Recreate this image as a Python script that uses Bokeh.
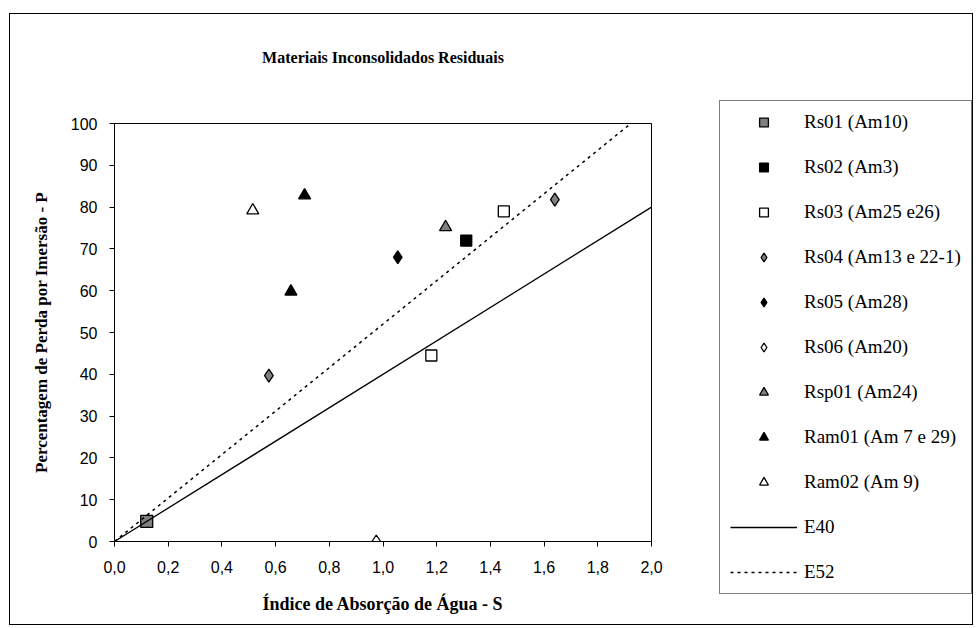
from bokeh.plotting import figure
from bokeh.models import Range1d, FixedTicker, Legend, LegendItem
from bokeh.layouts import row
from bokeh.embed import file_html
from bokeh.resources import INLINE

# ---- data ----
title_text = "Materiais Inconsolidados Residuais"
x_label = "Índice de Absorção de Água - S"
y_label = "Percentagem de Perda por Imersão - P"

x_ticks = [0.0, 0.2, 0.4, 0.6, 0.8, 1.0, 1.2, 1.4, 1.6, 1.8, 2.0]
x_tick_labels = ["0,0", "0,2", "0,4", "0,6", "0,8", "1,0", "1,2", "1,4", "1,6", "1,8", "2,0"]
y_ticks = [0, 10, 20, 30, 40, 50, 60, 70, 80, 90, 100]

series_names = ["Rs01 (Am10)", "Rs02 (Am3)", "Rs03 (Am25 e26)", "Rs04 (Am13 e 22-1)",
                "Rs05 (Am28)", "Rs06 (Am20)", "Rsp01 (Am24)", "Ram01 (Am 7 e 29)",
                "Ram02 (Am 9)"]
line_names = ["E40", "E52"]

rs01_s = [0.12]
rs01_p = [4.8]
rs02_s = [1.31]
rs02_p = [72.0]
rs03_s = [1.45, 1.18]
rs03_p = [79.0, 44.5]
rs04_s = [1.64, 0.575]
rs04_p = [81.8, 39.7]
rs05_s = [1.055]
rs05_p = [68.0]
rs06_s = [0.975]
rs06_p = [0.0]
rsp01_s = [1.233]
rsp01_p = [75.2]
ram01_s = [0.708, 0.657]
ram01_p = [82.8, 59.8]
ram02_s = [0.515]
ram02_p = [79.2]

e40_s = [0.0, 2.0]
e40_p = [0.0, 80.0]
e52_s = [0.0, 1.923]
e52_p = [0.0, 100.0]

GRAY = "#808080"
marker_styles = [
    ("square", 12, GRAY), ("square", 11, "black"), ("square", 11, "white"),
    ("diamond", 13, GRAY), ("diamond", 13, "black"), ("diamond", 13, "white"),
    ("triangle", 12, GRAY), ("triangle", 12, "black"), ("triangle", 12, "white"),
]
series_data = [(rs01_s, rs01_p), (rs02_s, rs02_p), (rs03_s, rs03_p), (rs04_s, rs04_p),
               (rs05_s, rs05_p), (rs06_s, rs06_p), (rsp01_s, rsp01_p),
               (ram01_s, ram01_p), (ram02_s, ram02_p)]
line_data = [(e40_s, e40_p, None), (e52_s, e52_p, "3 4")]

# ---- main figure ----
p = figure(width=661, height=610, output_backend="svg", toolbar_location=None,
           x_range=Range1d(0, 2), y_range=Range1d(0, 100),
           min_border_left=104, min_border_right=20,
           min_border_top=109, min_border_bottom=83)
p.frame_align = False
p.background_fill_color = "white"
p.border_fill_color = "white"
p.outline_line_color = "black"
p.outline_line_width = 1
p.xgrid.visible = False
p.ygrid.visible = False

# two empty trailing lines keep the title well above the frame
p.title.text = title_text + "\n\n"
p.title.align = "center"
p.title.text_font = "Liberation Serif"
p.title.text_font_style = "bold"
p.title.text_font_size = "16px"
p.title.text_color = "black"
p.title.standoff = 47

for ax in (p.xaxis[0], p.yaxis[0]):
    ax.axis_line_color = "black"
    ax.axis_line_width = 1
    ax.major_tick_line_color = "black"
    ax.major_tick_out = 5
    ax.major_tick_in = 0
    ax.minor_tick_line_color = None
    ax.major_label_text_font = "Liberation Sans"
    ax.major_label_text_font_size = "16px"
    ax.major_label_text_color = "black"
    ax.axis_label_text_font = "Liberation Serif"
    ax.axis_label_text_font_style = "bold"
    ax.axis_label_text_color = "black"

p.xaxis[0].ticker = FixedTicker(ticks=x_ticks)
p.xaxis[0].major_label_overrides = {t: l for t, l in zip(x_ticks, x_tick_labels)}
p.yaxis[0].ticker = FixedTicker(ticks=y_ticks)
p.xaxis[0].axis_label = x_label
p.yaxis[0].axis_label = y_label
p.xaxis[0].axis_label_text_font_size = "18px"
p.yaxis[0].axis_label_text_font_size = "17px"
p.xaxis[0].major_label_standoff = 14
p.yaxis[0].major_label_standoff = 12
p.xaxis[0].axis_label_standoff = 18
p.yaxis[0].axis_label_standoff = 17

for (xs, ys), (mk, sz, fc) in zip(series_data, marker_styles):
    p.scatter(xs, ys, marker=mk, size=sz, fill_color=fc, line_color="black", line_width=1.3)
for xs, ys, dash in line_data:
    if dash:
        p.line(xs, ys, line_color="black", line_width=1.5, line_dash=dash)
    else:
        p.line(xs, ys, line_color="black", line_width=1.3)

# ---- legend panel (second figure; its frame covers it all, data kept out of view) ----
q = figure(width=301, height=610, output_backend="svg", toolbar_location=None,
           x_axis_type=None, y_axis_type=None,
           x_range=Range1d(-20, -19), y_range=Range1d(-20, -19),
           min_border_left=0, min_border_right=0, min_border_top=0, min_border_bottom=0)
q.frame_align = False
q.outline_line_color = None
q.xgrid.visible = False
q.ygrid.visible = False
q.background_fill_color = "white"
q.border_fill_color = "white"

items = []
for name, (xs, ys), (mk, sz, fc) in zip(series_names, series_data, marker_styles):
    r = q.scatter(xs, ys, marker=mk, size=sz, fill_color=fc, line_color="black", line_width=1.3)
    items.append(LegendItem(label=name, renderers=[r]))
for name, (xs, ys, dash) in zip(line_names, line_data):
    if dash:
        r = q.line(xs, ys, line_color="black", line_width=1.5, line_dash=dash)
    else:
        r = q.line(xs, ys, line_color="black", line_width=1.3)
    items.append(LegendItem(label=name, renderers=[r]))

legend = Legend(items=items, location=(48, 30),
                label_text_font="Liberation Serif", label_text_font_size="19px",
                label_text_color="black",
                glyph_width=67, glyph_height=22, label_height=22,
                label_standoff=7, spacing=23, padding=10, margin=0,
                border_line_color="black", border_line_width=1,
                background_fill_color="white", background_fill_alpha=1.0)
q.add_layout(legend)

layout = row(p, q, spacing=0)
layout.margin = (13, 0, 0, 9)
layout.styles = {"border": "1px solid black"}

open("out.html", "w").write(file_html(layout, INLINE))
